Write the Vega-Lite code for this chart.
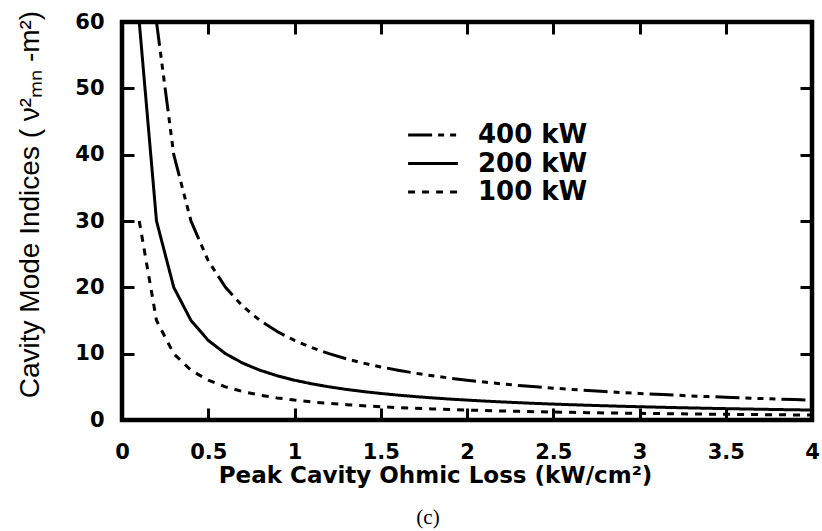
{
  "$schema": "https://vega.github.io/schema/vega-lite/v6.json",
  "width": 690,
  "height": 398,
  "autosize": {"type": "none"},
  "padding": {"left": 122, "top": 22, "right": 10, "bottom": 111},
  "background": "white",
  "title": {
    "text": "(c)",
    "orient": "bottom",
    "anchor": "middle",
    "frame": "group",
    "font": "Liberation Serif",
    "fontSize": 21,
    "fontWeight": "normal",
    "color": "black",
    "dx": -39,
    "offset": 20
  },
  "config": {
    "font": "DejaVu Sans",
    "view": {"stroke": "black", "strokeWidth": 4.5}
  },
  "data": {
    "values": [
      {"power": "100 kW", "loss": 0.1, "index": 30},
      {"power": "100 kW", "loss": 0.2, "index": 15},
      {"power": "100 kW", "loss": 0.3, "index": 10},
      {"power": "100 kW", "loss": 0.4, "index": 7.5},
      {"power": "100 kW", "loss": 0.5, "index": 6},
      {"power": "100 kW", "loss": 0.6, "index": 5},
      {"power": "100 kW", "loss": 0.7, "index": 4.286},
      {"power": "100 kW", "loss": 0.8, "index": 3.75},
      {"power": "100 kW", "loss": 0.9, "index": 3.333},
      {"power": "100 kW", "loss": 1.0, "index": 3},
      {"power": "100 kW", "loss": 1.1, "index": 2.727},
      {"power": "100 kW", "loss": 1.2, "index": 2.5},
      {"power": "100 kW", "loss": 1.3, "index": 2.308},
      {"power": "100 kW", "loss": 1.4, "index": 2.143},
      {"power": "100 kW", "loss": 1.5, "index": 2},
      {"power": "100 kW", "loss": 1.6, "index": 1.875},
      {"power": "100 kW", "loss": 1.7, "index": 1.765},
      {"power": "100 kW", "loss": 1.8, "index": 1.667},
      {"power": "100 kW", "loss": 1.9, "index": 1.579},
      {"power": "100 kW", "loss": 2.0, "index": 1.5},
      {"power": "100 kW", "loss": 2.1, "index": 1.429},
      {"power": "100 kW", "loss": 2.2, "index": 1.364},
      {"power": "100 kW", "loss": 2.3, "index": 1.304},
      {"power": "100 kW", "loss": 2.4, "index": 1.25},
      {"power": "100 kW", "loss": 2.5, "index": 1.2},
      {"power": "100 kW", "loss": 2.6, "index": 1.154},
      {"power": "100 kW", "loss": 2.7, "index": 1.111},
      {"power": "100 kW", "loss": 2.8, "index": 1.071},
      {"power": "100 kW", "loss": 2.9, "index": 1.034},
      {"power": "100 kW", "loss": 3.0, "index": 1},
      {"power": "100 kW", "loss": 3.1, "index": 0.968},
      {"power": "100 kW", "loss": 3.2, "index": 0.938},
      {"power": "100 kW", "loss": 3.3, "index": 0.909},
      {"power": "100 kW", "loss": 3.4, "index": 0.882},
      {"power": "100 kW", "loss": 3.5, "index": 0.857},
      {"power": "100 kW", "loss": 3.6, "index": 0.833},
      {"power": "100 kW", "loss": 3.7, "index": 0.811},
      {"power": "100 kW", "loss": 3.8, "index": 0.789},
      {"power": "100 kW", "loss": 3.9, "index": 0.769},
      {"power": "100 kW", "loss": 4.0, "index": 0.75},
      {"power": "200 kW", "loss": 0.1, "index": 60},
      {"power": "200 kW", "loss": 0.2, "index": 30},
      {"power": "200 kW", "loss": 0.3, "index": 20},
      {"power": "200 kW", "loss": 0.4, "index": 15},
      {"power": "200 kW", "loss": 0.5, "index": 12},
      {"power": "200 kW", "loss": 0.6, "index": 10},
      {"power": "200 kW", "loss": 0.7, "index": 8.571},
      {"power": "200 kW", "loss": 0.8, "index": 7.5},
      {"power": "200 kW", "loss": 0.9, "index": 6.667},
      {"power": "200 kW", "loss": 1.0, "index": 6},
      {"power": "200 kW", "loss": 1.1, "index": 5.455},
      {"power": "200 kW", "loss": 1.2, "index": 5},
      {"power": "200 kW", "loss": 1.3, "index": 4.615},
      {"power": "200 kW", "loss": 1.4, "index": 4.286},
      {"power": "200 kW", "loss": 1.5, "index": 4},
      {"power": "200 kW", "loss": 1.6, "index": 3.75},
      {"power": "200 kW", "loss": 1.7, "index": 3.529},
      {"power": "200 kW", "loss": 1.8, "index": 3.333},
      {"power": "200 kW", "loss": 1.9, "index": 3.158},
      {"power": "200 kW", "loss": 2.0, "index": 3},
      {"power": "200 kW", "loss": 2.1, "index": 2.857},
      {"power": "200 kW", "loss": 2.2, "index": 2.727},
      {"power": "200 kW", "loss": 2.3, "index": 2.609},
      {"power": "200 kW", "loss": 2.4, "index": 2.5},
      {"power": "200 kW", "loss": 2.5, "index": 2.4},
      {"power": "200 kW", "loss": 2.6, "index": 2.308},
      {"power": "200 kW", "loss": 2.7, "index": 2.222},
      {"power": "200 kW", "loss": 2.8, "index": 2.143},
      {"power": "200 kW", "loss": 2.9, "index": 2.069},
      {"power": "200 kW", "loss": 3.0, "index": 2},
      {"power": "200 kW", "loss": 3.1, "index": 1.935},
      {"power": "200 kW", "loss": 3.2, "index": 1.875},
      {"power": "200 kW", "loss": 3.3, "index": 1.818},
      {"power": "200 kW", "loss": 3.4, "index": 1.765},
      {"power": "200 kW", "loss": 3.5, "index": 1.714},
      {"power": "200 kW", "loss": 3.6, "index": 1.667},
      {"power": "200 kW", "loss": 3.7, "index": 1.622},
      {"power": "200 kW", "loss": 3.8, "index": 1.579},
      {"power": "200 kW", "loss": 3.9, "index": 1.538},
      {"power": "200 kW", "loss": 4.0, "index": 1.5},
      {"power": "400 kW", "loss": 0.2, "index": 60},
      {"power": "400 kW", "loss": 0.3, "index": 40},
      {"power": "400 kW", "loss": 0.4, "index": 30},
      {"power": "400 kW", "loss": 0.5, "index": 24},
      {"power": "400 kW", "loss": 0.6, "index": 20},
      {"power": "400 kW", "loss": 0.7, "index": 17.143},
      {"power": "400 kW", "loss": 0.8, "index": 15},
      {"power": "400 kW", "loss": 0.9, "index": 13.333},
      {"power": "400 kW", "loss": 1.0, "index": 12},
      {"power": "400 kW", "loss": 1.1, "index": 10.909},
      {"power": "400 kW", "loss": 1.2, "index": 10},
      {"power": "400 kW", "loss": 1.3, "index": 9.231},
      {"power": "400 kW", "loss": 1.4, "index": 8.571},
      {"power": "400 kW", "loss": 1.5, "index": 8},
      {"power": "400 kW", "loss": 1.6, "index": 7.5},
      {"power": "400 kW", "loss": 1.7, "index": 7.059},
      {"power": "400 kW", "loss": 1.8, "index": 6.667},
      {"power": "400 kW", "loss": 1.9, "index": 6.316},
      {"power": "400 kW", "loss": 2.0, "index": 6},
      {"power": "400 kW", "loss": 2.1, "index": 5.714},
      {"power": "400 kW", "loss": 2.2, "index": 5.455},
      {"power": "400 kW", "loss": 2.3, "index": 5.217},
      {"power": "400 kW", "loss": 2.4, "index": 5},
      {"power": "400 kW", "loss": 2.5, "index": 4.8},
      {"power": "400 kW", "loss": 2.6, "index": 4.615},
      {"power": "400 kW", "loss": 2.7, "index": 4.444},
      {"power": "400 kW", "loss": 2.8, "index": 4.286},
      {"power": "400 kW", "loss": 2.9, "index": 4.138},
      {"power": "400 kW", "loss": 3.0, "index": 4},
      {"power": "400 kW", "loss": 3.1, "index": 3.871},
      {"power": "400 kW", "loss": 3.2, "index": 3.75},
      {"power": "400 kW", "loss": 3.3, "index": 3.636},
      {"power": "400 kW", "loss": 3.4, "index": 3.529},
      {"power": "400 kW", "loss": 3.5, "index": 3.429},
      {"power": "400 kW", "loss": 3.6, "index": 3.333},
      {"power": "400 kW", "loss": 3.7, "index": 3.243},
      {"power": "400 kW", "loss": 3.8, "index": 3.158},
      {"power": "400 kW", "loss": 3.9, "index": 3.077},
      {"power": "400 kW", "loss": 4.0, "index": 3}
    ]
  },
  "mark": {"type": "line", "color": "black", "strokeWidth": 3},
  "encoding": {
    "x": {
      "field": "loss",
      "type": "quantitative",
      "scale": {"domain": [0, 4], "nice": false},
      "axis": {
        "values": [0, 0.5, 1, 1.5, 2, 2.5, 3, 3.5, 4],
        "format": "~g",
        "domain": false,
        "ticks": false,
        "grid": true,
        "gridColor": "black",
        "gridOpacity": 1,
        "gridWidth": 3,
        "gridCap": "butt",
        "gridDash": [12, 374],
        "labelFlush": false,
        "labelColor": "black",
        "labelFont": "DejaVu Sans",
        "labelFontWeight": "bold",
        "labelFontSize": 21,
        "labelPadding": 21,
        "title": "Peak Cavity Ohmic Loss (kW/cm²)",
        "titleColor": "black",
        "titleFont": "DejaVu Sans",
        "titleFontWeight": "bold",
        "titleFontSize": 23,
        "titleAnchor": "middle",
        "titleAlign": "center",
        "titleBaseline": "alphabetic",
        "titleX": 313,
        "titleY": 62
      }
    },
    "y": {
      "field": "index",
      "type": "quantitative",
      "scale": {"domain": [0, 60], "nice": false},
      "axis": {
        "values": [0, 10, 20, 30, 40, 50, 60],
        "domain": false,
        "ticks": false,
        "grid": true,
        "gridColor": "black",
        "gridOpacity": 1,
        "gridWidth": 3,
        "gridCap": "butt",
        "gridDash": [12, 666],
        "labelFlush": false,
        "labelColor": "black",
        "labelFont": "DejaVu Sans",
        "labelFontWeight": "bold",
        "labelFontSize": 21,
        "labelPadding": 18,
        "title": "Cavity Mode Indices ( ν²ₘₙ -m²)",
        "titleColor": "black",
        "titleFont": "Liberation Sans",
        "titleFontWeight": "normal",
        "titleFontSize": 28,
        "titleAngle": -90,
        "titleAlign": "center",
        "titleBaseline": "middle",
        "titleX": -92,
        "titleY": 182
      }
    },
    "strokeDash": {
      "field": "power",
      "type": "nominal",
      "scale": {
        "domain": ["400 kW", "200 kW", "100 kW"],
        "range": [[24, 6, 6, 6, 6, 6, 6, 6], [1, 0], [7, 7]]
      },
      "legend": {
        "orient": "none",
        "legendX": 297,
        "legendY": 99,
        "title": null,
        "symbolType": "M-2,0H2",
        "symbolSize": 620,
        "symbolStrokeWidth": 3,
        "symbolStrokeColor": "black",
        "symbolFillColor": "transparent",
        "labelFont": "DejaVu Sans",
        "labelFontWeight": "bold",
        "labelFontSize": 26,
        "labelColor": "black",
        "labelOffset": 31,
        "rowPadding": 1.5,
        "labelLimit": 300
      }
    }
  }
}
